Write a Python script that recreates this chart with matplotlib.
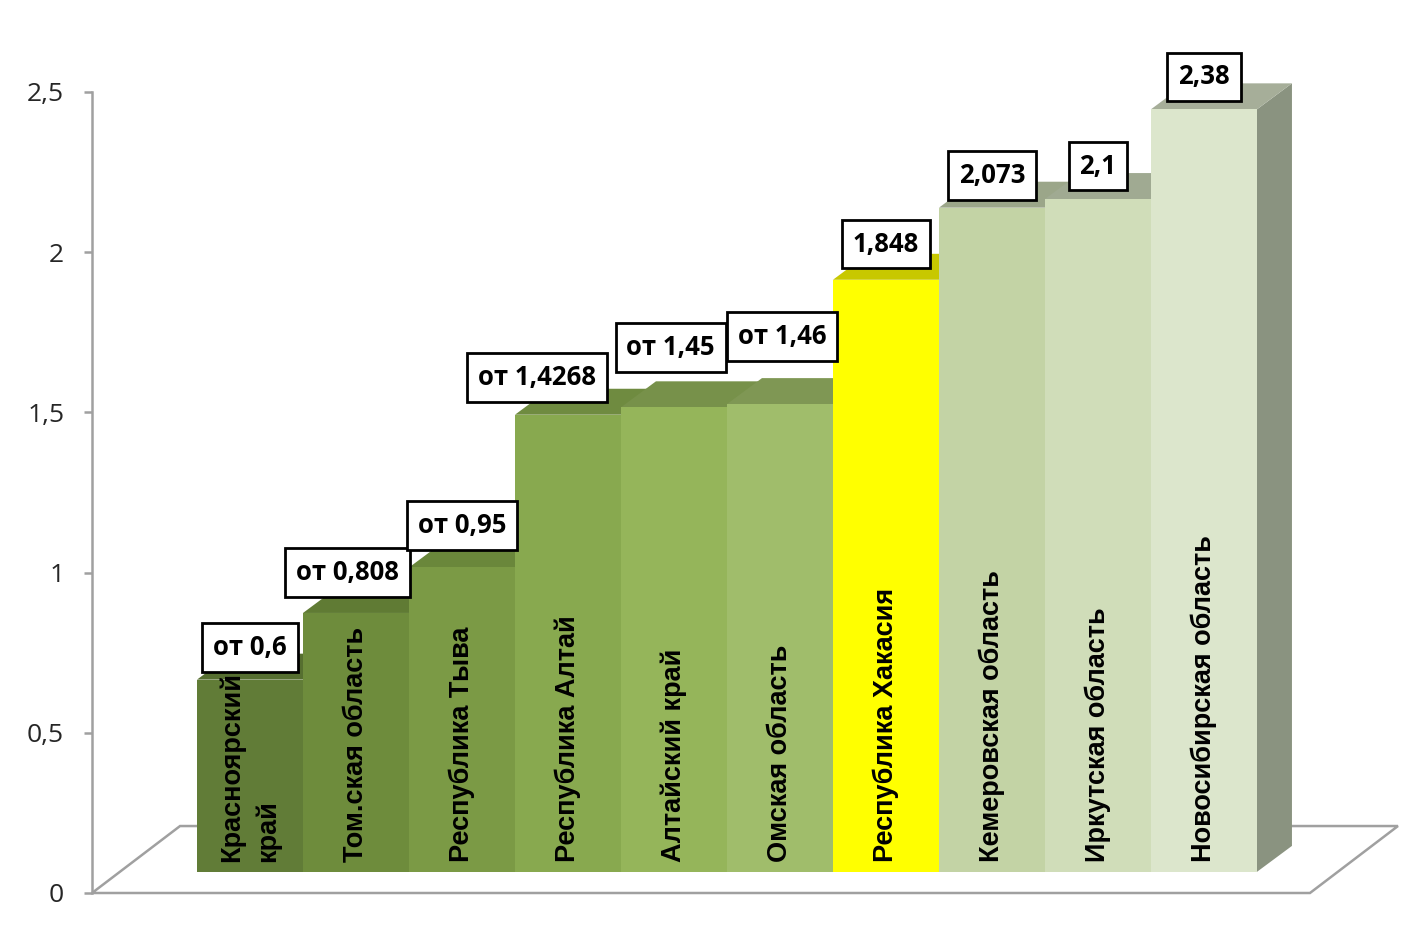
import numpy as np
import matplotlib.pyplot as plt
from matplotlib.patches import Polygon

regions = ['Красноярский\nкрай', 'Том.ская область', 'Республика Тыва', 'Республика Алтай',
           'Алтайский край', 'Омская область', 'Республика Хакасия', 'Кемеровская область',
           'Иркутская область', 'Новосибирская область']
values = [0.6, 0.808, 0.95, 1.4268, 1.45, 1.46, 1.848, 2.073, 2.1, 2.38]
value_labels = ['от 0,6', 'от 0,808', 'от 0,95', 'от 1,4268', 'от 1,45', 'от 1,46',
                '1,848', '2,073', '2,1', '2,38']
yticks = [0, 0.5, 1, 1.5, 2, 2.5]
ytick_labels = ['0', '0,5', '1', '1,5', '2', '2,5']

front_colors = ['#617c37', '#6e8c3c', '#7b9a45', '#88a94f', '#95b55a', '#a0bd6b',
                '#ffff00', '#c3d3a5', '#d0ddb9', '#dce6cc']
top_colors = ['#566f30', '#607b34', '#6a873b', '#6f8b40', '#77914a', '#7f9754',
              '#c8c800', '#9ba689', '#a0aa92', '#a6ae99']
side_colors = ['#4c6329', '#55702d', '#5f7a34', '#647f39', '#6c8542', '#748b4c',
               '#b0b000', '#8d9680', '#8c9582', '#8a9380']

# layout (3D look)
base = 0.066          # front face bottom above the axis zero
ddx, ddy = 0.33, 0.081  # depth offset of bar back face
label_dx = [0, -0.08, 0, -0.29, -0.03, 0.02, 0, 0, 0, 0]
label_dy = [0.02, 0.045, 0.05, 0.035, 0.105, 0.13, 0.03, 0.02, 0.022, 0.02]

fig = plt.figure(figsize=(14.25, 9.27), dpi=100)
ax = fig.add_axes([92 / 1425, 34 / 927, 1328 / 1425, 801 / 927])
ax.set_xlim(-0.9906, 11.538)
ax.set_ylim(0, 2.5)

# floor
floor = Polygon([(-0.9906, 0), (-0.16, 0.209), (11.33, 0.209), (10.5, 0)], closed=True,
                facecolor='white', edgecolor='#a0a0a0', linewidth=1.8, zorder=1, clip_on=False)
ax.add_patch(floor)

for i, v in enumerate(values):
    x0, x1 = i, i + 1
    y0, y1 = base, base + v
    side = Polygon([(x1, y0), (x1 + ddx, y0 + ddy), (x1 + ddx, y1 + ddy), (x1, y1)],
                   facecolor=side_colors[i], edgecolor='none', zorder=2 + i, clip_on=False)
    top = Polygon([(x0, y1), (x0 + ddx, y1 + ddy), (x1 + ddx, y1 + ddy), (x1, y1)],
                  facecolor=top_colors[i], edgecolor='none', zorder=2 + i, clip_on=False)
    ax.add_patch(side)
    ax.add_patch(top)
    ax.bar(x0, v, width=1, bottom=y0, align='edge', color=front_colors[i],
           zorder=2 + i, clip_on=False)
    ax.text(i + 0.5, y0 + 0.03, regions[i], rotation=90, rotation_mode='anchor',
            ha='left', va='center', multialignment='left', fontsize=19.5,
            fontweight='bold', family='Liberation Sans', color='black',
            zorder=20, linespacing=1.45)
    ax.text(i + 0.5 + label_dx[i], y1 + ddy + label_dy[i], value_labels[i],
            ha='center', va='center', fontsize=18.5, fontweight='bold', family='Open Sans',
            color='black', zorder=30,
            bbox=dict(boxstyle='square,pad=0.42', facecolor='white', edgecolor='black',
                      linewidth=2))

for s in ['top', 'right', 'bottom']:
    ax.spines[s].set_visible(False)
ax.spines['left'].set_color('#a0a0a0')
ax.spines['left'].set_linewidth(1.8)
ax.set_xticks([])
ax.set_yticks(yticks)
ax.set_yticklabels(ytick_labels, family='Open Sans', fontsize=19, color='#262626')
ax.tick_params(axis='y', direction='out', length=6, width=1.8, color='#a0a0a0', pad=14)
ax.patch.set_alpha(0)

fig.savefig('out.png', dpi=100)
